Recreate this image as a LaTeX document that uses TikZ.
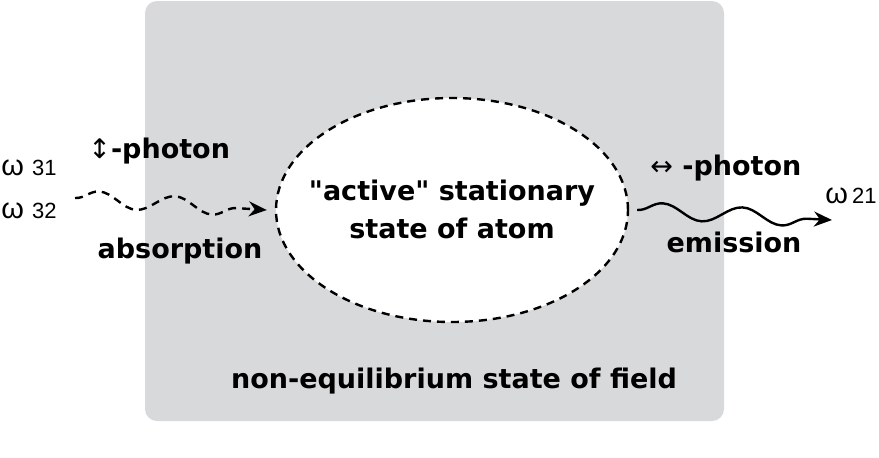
\documentclass[tikz,border=0pt]{standalone}
\usepackage{fontspec}
\setmainfont{DejaVu Sans}[Ligatures=TeXOff]
\newfontfamily\omegafont{Liberation Sans}
\usetikzlibrary{arrows.meta}
\usetikzlibrary{shapes.geometric}
\usetikzlibrary{decorations.pathmorphing}

\definecolor{fieldgray}{RGB}{216,217,219}

\begin{document}
\begin{tikzpicture}[x=0.5pt,y=-0.5pt,font=\fontsize{13.5}{16}\selectfont\bfseries,
    wave/.style={decorate,decoration={snake,amplitude=4pt,segment length=38pt,post length=6pt}},
    tip/.style={-{Stealth[length=9pt,width=7.5pt]}},
    freq/.style={font=\omegafont\fontsize{14.5}{16}\selectfont,anchor=base west,inner sep=0pt},
    label/.style={anchor=base,inner sep=0pt}]

    \useasboundingbox (0,0) rectangle (879,457);

    % gray field behind everything
    \fill[fieldgray,rounded corners=6pt] (145,1) rectangle (724,421);

    % the atom
    \node[ellipse,draw,fill=white,line width=1.2pt,dash pattern=on 4pt off 3pt,
          minimum width=176pt,minimum height=112pt,inner sep=0pt] (atom) at (452,210) {};
    \node[label] (active) at (452,200) {"active" stationary};
    \node[label] (atomstate) at (452,238) {state of atom};

    \node[label] (field) at (454,388) {non-equilibrium state of field};

    % incoming photon
    \node[freq] (w31) at (1,175) {ω\hspace{4pt}{\fontsize{11}{13}\selectfont 31}};
    \node[freq] (w32) at (1,218) {ω\hspace{4pt}{\fontsize{11}{13}\selectfont 32}};
    \node[anchor=base west,inner sep=0pt] (photonin) at (88,158) {{\mdseries ↕}-photon};
    \node[label] (absorb) at (180,258) {absorption};
    \coordinate (absstart) at (75,198);
    \draw[wave,tip,line width=1.2pt,dash pattern=on 4pt off 3pt] (absstart) -- ([xshift=-4pt]atom.west);

    % outgoing photon
    \node[freq] (w21) at (825,203) {ω\hspace{2pt}{\fontsize{11}{13}\selectfont 21}};
    \node[anchor=base west,inner sep=0pt] (photonout) at (650,175) {{\mdseries ↔} -photon};
    \node[label] (emit) at (734,252) {emission};
    \coordinate (emitend) at (832,220);
    \draw[wave,tip,line width=1.2pt,decoration={segment length=40pt}] ([xshift=4pt]atom.east) -- (emitend);

\end{tikzpicture}
\end{document}
